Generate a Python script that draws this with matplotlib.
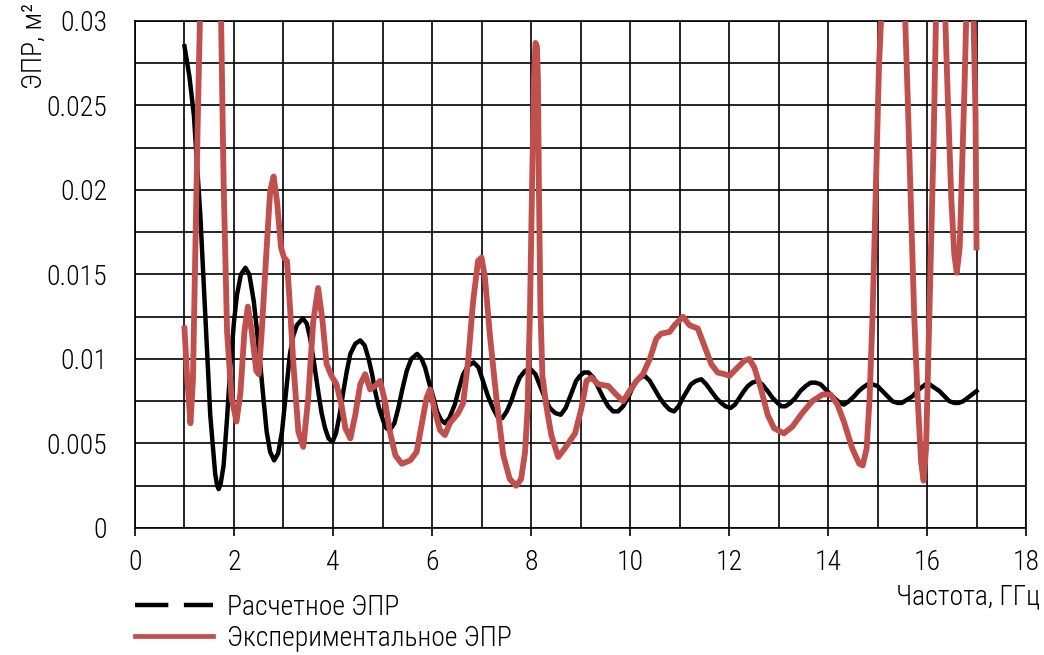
import matplotlib
matplotlib.use("Agg")
import matplotlib.pyplot as plt
from matplotlib.lines import Line2D
from matplotlib.ticker import FixedLocator, MultipleLocator, FixedFormatter

plt.rcParams['font.family'] = ['Roboto Condensed', 'DejaVu Sans']
plt.rcParams['font.weight'] = 'light'

# Расчетное ЭПР (calculated RCS), m^2 vs frequency, GHz
calc_freq = [1.00, 1.10, 1.19, 1.32, 1.42, 1.52, 1.62, 1.66, 1.69, 1.73,
             1.79, 1.86, 1.93, 2.00, 2.06, 2.14, 2.23, 2.31, 2.40, 2.46,
             2.53, 2.60, 2.66, 2.73, 2.81, 2.89, 2.97, 3.05, 3.13, 3.20,
             3.27, 3.39, 3.47, 3.54, 3.62, 3.70, 3.77, 3.84, 3.91, 3.99,
             4.06, 4.14, 4.21, 4.28, 4.35, 4.45, 4.55, 4.64, 4.72, 4.79,
             4.85, 4.93, 5.02, 5.08, 5.15, 5.24, 5.32, 5.40, 5.49, 5.58,
             5.70, 5.79, 5.86, 5.94, 6.03, 6.10, 6.18, 6.26, 6.35, 6.46,
             6.55, 6.63, 6.73, 6.84, 6.94, 7.03, 7.13, 7.23, 7.32, 7.42,
             7.51, 7.60, 7.69, 7.77, 7.88, 7.99, 8.09, 8.17, 8.28, 8.38,
             8.49, 8.60, 8.70, 8.82, 8.91, 8.99, 9.07, 9.16, 9.26, 9.36,
             9.46, 9.56, 9.66, 9.76, 9.86, 9.96, 10.05, 10.13, 10.21, 10.30,
             10.40, 10.50, 10.60, 10.70, 10.80, 10.89, 10.98, 11.07, 11.15, 11.23,
             11.33, 11.44, 11.54, 11.64, 11.74, 11.84, 11.93, 12.03, 12.12, 12.21,
             12.30, 12.38, 12.47, 12.57, 12.67, 12.78, 12.88, 12.98, 13.06, 13.14,
             13.24, 13.34, 13.44, 13.55, 13.65, 13.75, 13.85, 13.95, 14.05, 14.16,
             14.24, 14.32, 14.42, 14.53, 14.62, 14.70, 14.80, 14.89, 15.00, 15.10,
             15.20, 15.30, 15.40, 15.49, 15.60, 15.71, 15.80, 15.88, 15.97, 16.05,
             16.15, 16.25, 16.35, 16.45, 16.55, 16.64, 16.73, 16.82, 16.91, 17.00]
calc_rcs = [0.0285, 0.0267, 0.0244, 0.0185, 0.0126, 0.0067, 0.0032, 0.0025, 0.0023, 0.0026,
            0.0037, 0.0065, 0.0097, 0.0122, 0.0138, 0.0150, 0.0154, 0.0150, 0.0134, 0.0118,
            0.0097, 0.0075, 0.0057, 0.0045, 0.0040, 0.0044, 0.0057, 0.0080, 0.0103, 0.0114,
            0.0120, 0.0124, 0.0121, 0.0112, 0.0097, 0.0081, 0.0068, 0.0059, 0.0053, 0.0051,
            0.0056, 0.0068, 0.0081, 0.0093, 0.0103, 0.0109, 0.0111, 0.0108, 0.0100, 0.0091,
            0.0081, 0.0071, 0.0063, 0.0059, 0.0058, 0.0062, 0.0071, 0.0082, 0.0093, 0.0100,
            0.0103, 0.0100, 0.0095, 0.0086, 0.0077, 0.0069, 0.0064, 0.0062, 0.0065, 0.0073,
            0.0083, 0.0091, 0.0096, 0.0098, 0.0095, 0.0087, 0.0078, 0.0071, 0.0066, 0.0065,
            0.0069, 0.0075, 0.0083, 0.0089, 0.0093, 0.0094, 0.0091, 0.0085, 0.0077, 0.0071,
            0.0068, 0.0067, 0.0071, 0.0080, 0.0087, 0.0090, 0.0092, 0.0092, 0.0089, 0.0083,
            0.0077, 0.0072, 0.0069, 0.0069, 0.0072, 0.0077, 0.0083, 0.0087, 0.0089, 0.0090,
            0.0087, 0.0082, 0.0077, 0.0073, 0.0070, 0.0069, 0.0072, 0.0077, 0.0081, 0.0085,
            0.0087, 0.0088, 0.0085, 0.0081, 0.0077, 0.0074, 0.0072, 0.0071, 0.0073, 0.0077,
            0.0081, 0.0084, 0.0086, 0.0087, 0.0085, 0.0081, 0.0077, 0.0074, 0.0072, 0.0072,
            0.0074, 0.0077, 0.0081, 0.0084, 0.0086, 0.0086, 0.0085, 0.0082, 0.0079, 0.0076,
            0.0074, 0.0073, 0.0075, 0.0078, 0.0081, 0.0083, 0.0085, 0.0085, 0.0084, 0.0081,
            0.0078, 0.0075, 0.0074, 0.0074, 0.0076, 0.0078, 0.0081, 0.0083, 0.0085, 0.0085,
            0.0083, 0.0081, 0.0078, 0.0075, 0.0074, 0.0074, 0.0075, 0.0077, 0.0079, 0.0081]

# Экспериментальное ЭПР (measured RCS); values above 0.03 run off the chart
exp_freq = [1.00, 1.05, 1.12, 1.17, 1.22, 1.27, 1.31, 1.36, 1.52, 1.68,
            1.74, 1.79, 1.86, 1.95, 2.05, 2.13, 2.21, 2.28, 2.36, 2.45,
            2.50, 2.56, 2.66, 2.73, 2.80, 2.87, 2.95, 3.01, 3.07, 3.12,
            3.20, 3.30, 3.40, 3.50, 3.60, 3.70, 3.79, 3.87, 3.97, 4.07,
            4.17, 4.25, 4.35, 4.45, 4.55, 4.65, 4.75, 4.85, 4.95, 5.05,
            5.15, 5.26, 5.39, 5.56, 5.69, 5.79, 5.89, 5.96, 6.06, 6.16,
            6.26, 6.36, 6.53, 6.63, 6.73, 6.83, 6.93, 7.00, 7.07, 7.17,
            7.30, 7.44, 7.57, 7.70, 7.80, 7.88, 7.93, 7.98, 8.02, 8.06,
            8.09, 8.12, 8.14, 8.16, 8.19, 8.23, 8.31, 8.41, 8.55, 8.68,
            8.89, 9.02, 9.12, 9.22, 9.36, 9.56, 9.72, 9.86, 9.99, 10.13,
            10.26, 10.40, 10.53, 10.63, 10.80, 10.90, 11.07, 11.20, 11.37, 11.50,
            11.64, 11.77, 11.91, 12.01, 12.14, 12.31, 12.41, 12.51, 12.64, 12.78,
            12.91, 13.11, 13.28, 13.48, 13.68, 13.89, 14.05, 14.19, 14.32, 14.49,
            14.63, 14.70, 14.78, 14.84, 14.90, 14.97, 15.03, 15.07, 15.12, 15.30,
            15.50, 15.56, 15.61, 15.68, 15.74, 15.81, 15.88, 15.93, 15.98, 16.03,
            16.08, 16.13, 16.18, 16.22, 16.28, 16.33, 16.37, 16.42, 16.49, 16.55,
            16.60, 16.66, 16.71, 16.76, 16.79, 16.84, 16.89, 16.94, 16.98, 17.00]
exp_rcs = [0.0118, 0.0091, 0.0062, 0.0087, 0.0166, 0.0244, 0.0300, 0.0360, 0.0400, 0.0360,
           0.0300, 0.0205, 0.0116, 0.0077, 0.0063, 0.0080, 0.0116, 0.0131, 0.0116, 0.0093,
           0.0091, 0.0116, 0.0166, 0.0199, 0.0208, 0.0193, 0.0166, 0.0160, 0.0158, 0.0136,
           0.0097, 0.0057, 0.0048, 0.0077, 0.0122, 0.0142, 0.0122, 0.0097, 0.0090, 0.0085,
           0.0073, 0.0059, 0.0053, 0.0067, 0.0085, 0.0091, 0.0082, 0.0084, 0.0087, 0.0075,
           0.0057, 0.0043, 0.0038, 0.0040, 0.0045, 0.0061, 0.0077, 0.0082, 0.0069, 0.0058,
           0.0055, 0.0062, 0.0068, 0.0074, 0.0099, 0.0134, 0.0158, 0.0160, 0.0148, 0.0114,
           0.0077, 0.0043, 0.0029, 0.0025, 0.0029, 0.0045, 0.0070, 0.0130, 0.0200, 0.0265,
           0.0287, 0.0285, 0.0265, 0.0200, 0.0130, 0.0090, 0.0072, 0.0055, 0.0042, 0.0047,
           0.0056, 0.0071, 0.0087, 0.0089, 0.0085, 0.0084, 0.0079, 0.0075, 0.0081, 0.0087,
           0.0091, 0.0100, 0.0112, 0.0115, 0.0116, 0.0120, 0.0125, 0.0120, 0.0118, 0.0108,
           0.0097, 0.0092, 0.0091, 0.0090, 0.0094, 0.0099, 0.0100, 0.0095, 0.0083, 0.0067,
           0.0059, 0.0056, 0.0060, 0.0068, 0.0075, 0.0079, 0.0079, 0.0073, 0.0063, 0.0047,
           0.0038, 0.0037, 0.0047, 0.0077, 0.0126, 0.0205, 0.0274, 0.0300, 0.0340, 0.0400,
           0.0340, 0.0300, 0.0254, 0.0185, 0.0126, 0.0077, 0.0039, 0.0028, 0.0047, 0.0106,
           0.0166, 0.0225, 0.0300, 0.0340, 0.0360, 0.0340, 0.0300, 0.0254, 0.0195, 0.0162,
           0.0151, 0.0166, 0.0215, 0.0264, 0.0300, 0.0340, 0.0340, 0.0300, 0.0244, 0.0166]

x_ticks = [0, 2, 4, 6, 8, 10, 12, 14, 16, 18]
y_ticks = [0, 0.005, 0.01, 0.015, 0.02, 0.025, 0.03]
y_tick_labels = ['0', '0.005', '0.01', '0.015', '0.02', '0.025', '0.03']

red = '#c0504d'
fs = 20

fig = plt.figure(figsize=(10.44, 6.55), dpi=100)
ax = fig.add_axes([0.1293, 0.1939, 0.8535, 0.7741])

ax.plot(calc_freq, calc_rcs, color='black', lw=3.2, solid_joinstyle='round', zorder=3)
ax.plot(exp_freq, exp_rcs, color=red, lw=4.2, solid_joinstyle='round', zorder=4)

ax.set_xlim(0, 18)
ax.set_ylim(0, 0.03)
ax.xaxis.set_major_locator(FixedLocator(x_ticks))
ax.xaxis.set_minor_locator(MultipleLocator(1))
ax.yaxis.set_major_locator(FixedLocator(y_ticks))
ax.yaxis.set_major_formatter(FixedFormatter(y_tick_labels))
ax.yaxis.set_minor_locator(MultipleLocator(0.0025))
ax.grid(which='both', color='black', lw=1.2)
ax.set_axisbelow(True)
for sp in ax.spines.values():
    sp.set_linewidth(1.2)
ax.tick_params(axis='x', which='major', direction='out', length=6, width=1.2, pad=9, labelsize=fs)
ax.tick_params(axis='x', which='minor', length=0)
ax.tick_params(axis='y', which='both', length=0, pad=20, labelsize=fs)

fig.text(0.033, 0.995, 'ЭПР, м²', rotation=90, ha='center', va='top', fontsize=fs)
fig.text(0.996, 0.088, 'Частота, ГГц', ha='right', va='center', fontsize=fs)

handles = [Line2D([], [], color='black', lw=3.2, dashes=(7.5, 3.5)),
           Line2D([], [], color=red, lw=3.4)]
fig.legend(handles, ['Расчетное ЭПР', 'Экспериментальное ЭПР'], loc='upper left',
           bbox_to_anchor=(0.116, 0.115), frameon=False, fontsize=fs,
           handlelength=2.8, handletextpad=0.5, labelspacing=0.15, borderpad=0)

fig.savefig('out.png', dpi=100)
